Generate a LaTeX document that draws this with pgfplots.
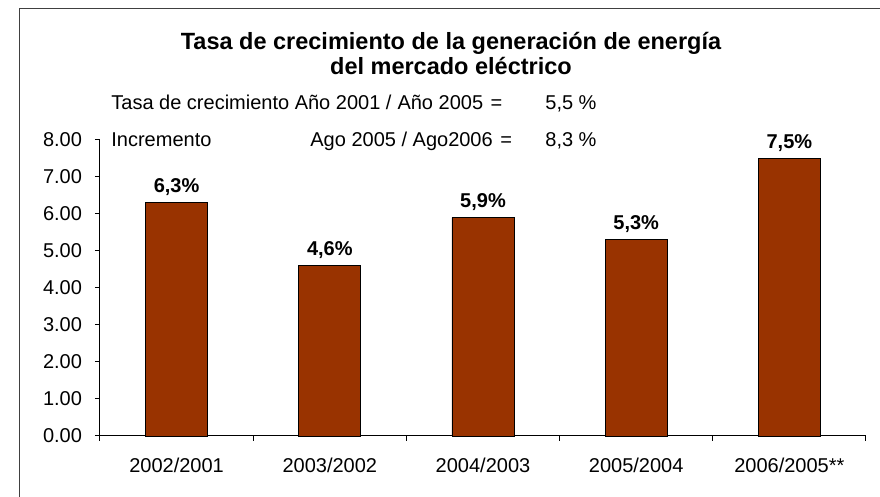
\documentclass[border=0pt]{standalone}
\usepackage{pgfplots}
\pgfplotsset{compat=1.18}
\usepackage{fontspec}
\setmainfont{Liberation Sans}
\definecolor{barc}{HTML}{993300}
\begin{document}
\begin{tikzpicture}[x=0.5pt,y=0.5pt]
\useasboundingbox (0,0) rectangle (880,497);
\draw[line width=0.7pt, black!75] (19.5,-2) -- (19.5,488.5) -- (882,488.5);
\node[align=center, font=\bfseries\fontsize{11.75}{12.5}\selectfont] at (451,443) {Tasa de crecimiento de la generación de energía\\del mercado eléctrico};
\node[anchor=base west, inner sep=0pt, font=\fontsize{10}{12}\selectfont] at (111,387) {Tasa de crecimiento Año 2001 /\hspace{0.3em}Año 2005 \hspace{0.1em}=};
\node[anchor=base west, inner sep=0pt, font=\fontsize{10}{12}\selectfont] at (545,387) {5,5 \%};
\node[anchor=base west, inner sep=0pt, font=\fontsize{10}{12}\selectfont] at (111,350) {Incremento};
\node[anchor=base west, inner sep=0pt, font=\fontsize{10}{12}\selectfont] at (310,350) {Ago 2005 / Ago2006 \hspace{0.1em}=};
\node[anchor=base west, inner sep=0pt, font=\fontsize{10}{12}\selectfont] at (545,350) {8,3 \%};
\begin{axis}[
  at={(50pt,30.5pt)}, anchor=south west,
  scale only axis, width=383pt, height=148pt,
  xmin=-0.5, xmax=4.5, ymin=0, ymax=8,
  axis x line*=bottom, axis y line*=left,
  axis line style={black, line width=0.5pt},
  xtick={0,1,2,3,4},
  xticklabels={2002/2001,2003/2002,2004/2003,2005/2004,2006/2005**},
  major x tick style={draw=none},
  minor xtick={-0.5,0.5,1.5,2.5,3.5,4.5},
  ytick={0,1,...,8},
  tick align=outside,
  tick style={black, line width=0.5pt},
  major tick length=2.5pt, minor tick length=2.5pt,
  xtick pos=bottom, ytick pos=left,
  tick label style={font=\fontsize{10}{12}\selectfont},
  /pgf/number format/assume math mode=true,
  yticklabel style={xshift=-3pt, /pgf/number format/fixed, /pgf/number format/fixed zerofill, /pgf/number format/precision=2},
  xticklabel style={yshift=-5pt},
  clip=false,
]
\addplot[ybar, bar width=31pt, fill=barc, draw=black, line width=0.4pt,
  nodes near coords, point meta=explicit symbolic,
  every node near coord/.append style={font=\bfseries\fontsize{10}{12}\selectfont, black}]
  table[meta=lab] {
x y lab
0 6.3 6,3\%
1 4.6 4,6\%
2 5.9 5,9\%
3 5.3 5,3\%
4 7.5 7,5\%
};
\end{axis}
\end{tikzpicture}
\end{document}
